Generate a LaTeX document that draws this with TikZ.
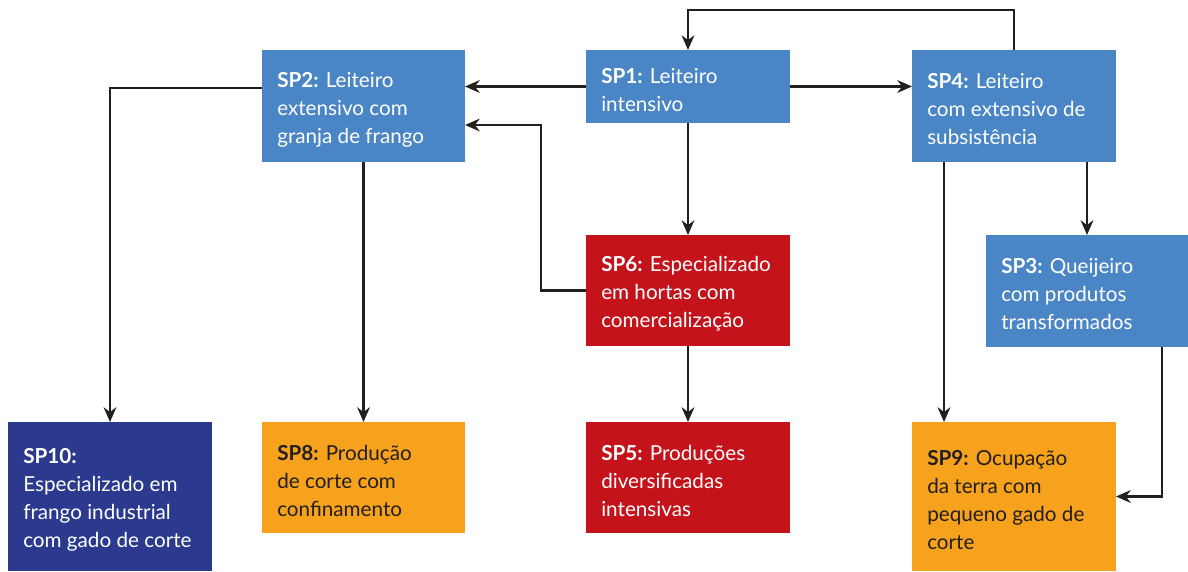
\documentclass[tikz,border=0pt]{standalone}
\usepackage{fontspec}
\setmainfont{Lato}
\usetikzlibrary{arrows.meta}
\definecolor{bblue}{HTML}{4A86C5}
\definecolor{rred}{HTML}{C4131B}
\definecolor{dblue}{HTML}{2B3A8E}
\definecolor{oorange}{HTML}{F6A21D}
\definecolor{ink}{HTML}{231F20}
\begin{document}
\begin{tikzpicture}[x=0.75pt, y=-0.75pt,
  box/.style={rectangle, inner sep=0, outer sep=0, anchor=north west, draw=none},
  txt/.style={anchor=west, align=left, inner sep=0, font=\fontsize{15.5}{21}\selectfont},
  arr/.style={draw=ink, line width=2.1pt, -{Stealth[length=11pt, width=9.5pt]}}]
\useasboundingbox (0,0) rectangle (1188,571);
% boxes
\node[box, fill=bblue, minimum width=152.25pt, minimum height=84pt] (sp2) at (262,50) {};
\node[box, fill=bblue, minimum width=153pt, minimum height=54.75pt] (sp1) at (586,50) {};
\node[box, fill=bblue, minimum width=153pt, minimum height=84pt] (sp4) at (912,50) {};
\node[box, fill=rred, minimum width=153pt, minimum height=83.25pt] (sp6) at (586,235) {};
\node[box, fill=bblue, minimum width=151.5pt, minimum height=84pt] (sp3) at (986,235) {};
\node[box, fill=dblue, minimum width=153pt, minimum height=111.75pt] (sp10) at (8,422) {};
\node[box, fill=oorange, minimum width=152.25pt, minimum height=83.25pt] (sp8) at (262,422) {};
\node[box, fill=rred, minimum width=153pt, minimum height=83.25pt] (sp5) at (586,422) {};
\node[box, fill=oorange, minimum width=153pt, minimum height=111.75pt] (sp9) at (912,422) {};
% texts
\begin{scope}[every node/.append style={yshift=-2.5pt}]
\node[txt, text=white] (sp2t) at ([xshift=11.25pt]sp2.west) {\textbf{SP2:} Leiteiro\\extensivo com\\granja de frango};
\node[txt, text=white] (sp1t) at ([xshift=11.25pt]sp1.west) {\textbf{SP1:} Leiteiro\\intensivo};
\node[txt, text=white] (sp4t) at ([xshift=11.25pt]sp4.west) {\textbf{SP4:} Leiteiro\\com extensivo de\\subsistência};
\node[txt, text=white] (sp6t) at ([xshift=11.25pt]sp6.west) {\textbf{SP6:} Especializado\\em hortas com\\comercialização};
\node[txt, text=white] (sp3t) at ([xshift=11.25pt]sp3.west) {\textbf{SP3:} Queijeiro\\com produtos\\transformados};
\node[txt, text=white] (sp10t) at ([xshift=11.25pt]sp10.west) {\textbf{SP10:}\\Especializado em\\frango industrial\\com gado de corte};
\node[txt, text=ink] (sp8t) at ([xshift=11.25pt]sp8.west) {\textbf{SP8:} Produção\\de corte com\\confinamento};
\node[txt, text=white] (sp5t) at ([xshift=11.25pt]sp5.west) {\textbf{SP5:} Produções\\diversificadas\\intensivas};
\node[txt, text=ink] (sp9t) at ([xshift=11.25pt]sp9.west) {\textbf{SP9:} Ocupação\\da terra com\\pequeno gado de\\corte};
\end{scope}
% connectors
\draw[arr] (sp1.west) -- (sp2.east |- sp1.west);
\draw[arr] (sp1.east) -- (sp4.west |- sp1.east);
\draw[arr] (sp4.north) -- ++(0,-40) -| (sp1.north);
\draw[arr] (sp1.south) -- (sp6.north);
\draw[arr] (sp6.west) -- ++(-45,0) |- ([yshift=-14.25pt]sp2.east);
\draw[arr] ([yshift=13.5pt]sp2.west) -| (sp10.north);
\draw[arr] (sp2.south) -- (sp8.north);
\draw[arr] (sp6.south) -- (sp5.north);
\draw[arr] (sp3.north |- sp4.south) -- (sp3.north);
\draw[arr] ([xshift=24pt]sp4.south west) -- ([xshift=24pt]sp9.north west);
\draw[arr] ([xshift=56.25pt]sp3.south) |- (sp9.east);
\end{tikzpicture}
\end{document}
